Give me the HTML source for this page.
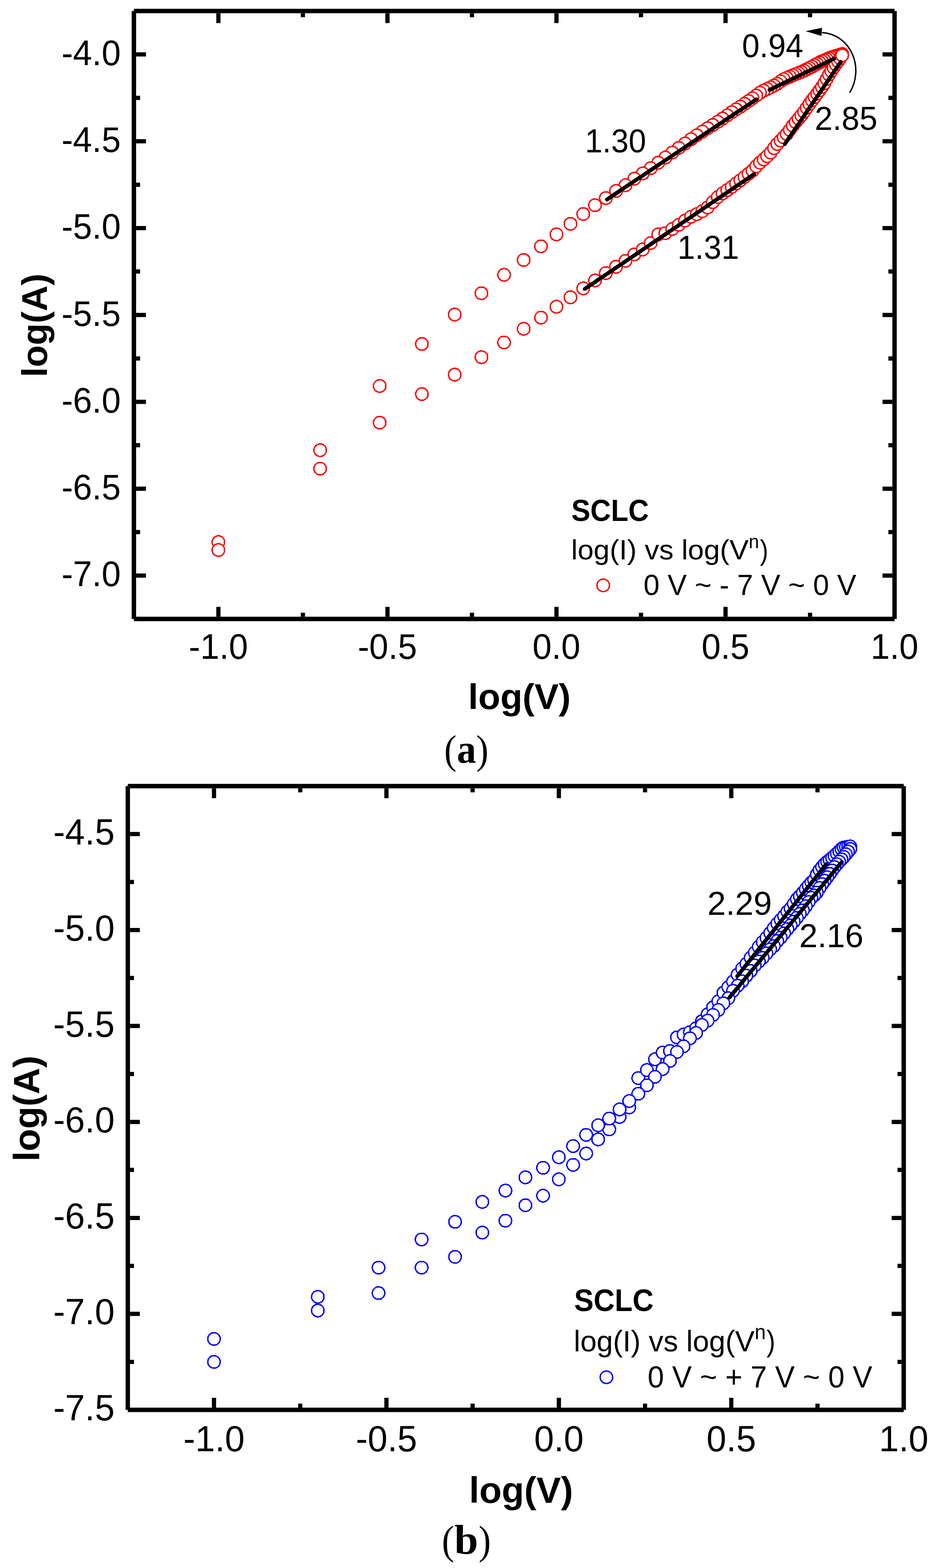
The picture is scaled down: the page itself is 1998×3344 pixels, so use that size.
<!DOCTYPE html>
<html><head><meta charset="utf-8"><title>SCLC log(I) vs log(V)</title>
<style>html,body{margin:0;padding:0;background:#fff;}svg{display:block;}</style>
</head><body>
<svg width="1998" height="3344" viewBox="0 0 1998 3344">
<rect width="1998" height="3344" fill="#fff"/>
<path d="M285.5 23.5H1907.5M285.5 1320.0H1907.5M285.5 23.5V1320.0M1907.5 23.5V1320.0" stroke="#000" stroke-width="9.4" fill="none"/>
<path d="M290.2 116.1h21M1902.8 116.1h-21M290.2 301.3h21M1902.8 301.3h-21M290.2 486.5h21M1902.8 486.5h-21M290.2 671.8h21M1902.8 671.8h-21M290.2 857.0h21M1902.8 857.0h-21M290.2 1042.2h21M1902.8 1042.2h-21M290.2 1227.4h21M1902.8 1227.4h-21M290.2 208.7h8.5M1902.8 208.7h-8.5M290.2 393.9h8.5M1902.8 393.9h-8.5M290.2 579.1h8.5M1902.8 579.1h-8.5M290.2 764.4h8.5M1902.8 764.4h-8.5M290.2 949.6h8.5M1902.8 949.6h-8.5M290.2 1134.8h8.5M1902.8 1134.8h-8.5M465.7 1315.3v-21M465.7 28.2v21M826.2 1315.3v-21M826.2 28.2v21M1186.6 1315.3v-21M1186.6 28.2v21M1547.1 1315.3v-21M1547.1 28.2v21M645.9 1315.3v-8.5M645.9 28.2v8.5M1006.4 1315.3v-8.5M1006.4 28.2v8.5M1366.8 1315.3v-8.5M1366.8 28.2v8.5M1727.3 1315.3v-8.5M1727.3 28.2v8.5" stroke="#000" stroke-width="9" fill="none"/>
<g transform="matrix(1.00366 0 0 1.04155 257.46 139.02)"><text x="0" y="0" font-family="'Liberation Sans', sans-serif" font-size="73" font-weight="normal" text-anchor="end">-4.0</text></g>
<g transform="matrix(1.00366 0 0 1.04155 257.46 324.23)"><text x="0" y="0" font-family="'Liberation Sans', sans-serif" font-size="73" font-weight="normal" text-anchor="end">-4.5</text></g>
<g transform="matrix(1.00366 0 0 1.04155 257.46 509.45)"><text x="0" y="0" font-family="'Liberation Sans', sans-serif" font-size="73" font-weight="normal" text-anchor="end">-5.0</text></g>
<g transform="matrix(1.00366 0 0 1.04155 257.46 694.66)"><text x="0" y="0" font-family="'Liberation Sans', sans-serif" font-size="73" font-weight="normal" text-anchor="end">-5.5</text></g>
<g transform="matrix(1.00366 0 0 1.04155 257.46 879.88)"><text x="0" y="0" font-family="'Liberation Sans', sans-serif" font-size="73" font-weight="normal" text-anchor="end">-6.0</text></g>
<g transform="matrix(1.00366 0 0 1.04155 257.46 1065.09)"><text x="0" y="0" font-family="'Liberation Sans', sans-serif" font-size="73" font-weight="normal" text-anchor="end">-6.5</text></g>
<g transform="matrix(1.00366 0 0 1.04155 257.46 1250.30)"><text x="0" y="0" font-family="'Liberation Sans', sans-serif" font-size="73" font-weight="normal" text-anchor="end">-7.0</text></g>
<g transform="matrix(1.00366 0 0 1.04155 465.64 1404.92)"><text x="0" y="0" font-family="'Liberation Sans', sans-serif" font-size="73" font-weight="normal" text-anchor="middle">-1.0</text></g>
<g transform="matrix(1.00366 0 0 1.04155 826.09 1404.92)"><text x="0" y="0" font-family="'Liberation Sans', sans-serif" font-size="73" font-weight="normal" text-anchor="middle">-0.5</text></g>
<g transform="matrix(1.00366 0 0 1.04155 1186.53 1404.92)"><text x="0" y="0" font-family="'Liberation Sans', sans-serif" font-size="73" font-weight="normal" text-anchor="middle">0.0</text></g>
<g transform="matrix(1.00366 0 0 1.04155 1546.98 1404.92)"><text x="0" y="0" font-family="'Liberation Sans', sans-serif" font-size="73" font-weight="normal" text-anchor="middle">0.5</text></g>
<g transform="matrix(1.00366 0 0 1.04155 1907.42 1404.92)"><text x="0" y="0" font-family="'Liberation Sans', sans-serif" font-size="73" font-weight="normal" text-anchor="middle">1.0</text></g>
<g transform="matrix(1.01576 0 0 1.00282 998.37 1511.75)"><text x="0" y="0" font-family="'Liberation Sans', sans-serif" font-size="76" font-weight="bold" text-anchor="start">log(V)</text></g>
<g transform="matrix(0.98611 0 0 0.99414 99.98 804.22)"><text x="0" y="0" font-family="'Liberation Sans', sans-serif" font-size="77" font-weight="bold" text-anchor="start" transform="rotate(-90)">log(A)</text></g>
<g transform="matrix(0.92874 0 0 1.01429 947.32 1627.74)"><text x="0" y="0" font-family="'Liberation Serif', serif" font-size="85" font-weight="normal" text-anchor="start">(</text></g>
<g transform="matrix(0.96623 0 0 1.00988 974.24 1627.04)"><text x="0" y="0" font-family="'Liberation Serif', serif" font-size="85" font-weight="bold" text-anchor="start">a</text></g>
<g transform="matrix(0.92874 0 0 1.01429 1015.35 1627.74)"><text x="0" y="0" font-family="'Liberation Serif', serif" font-size="85" font-weight="normal" text-anchor="start">)</text></g>
<g fill="#fff" stroke="#ff0000" stroke-width="3.0" shape-rendering="crispEdges"><circle cx="1795.8" cy="115.1" r="13.3"/><circle cx="1791.3" cy="116.5" r="13.3"/><circle cx="1786.8" cy="117.9" r="13.3"/><circle cx="1782.1" cy="119.4" r="13.3"/><circle cx="1777.4" cy="120.9" r="13.3"/><circle cx="1772.6" cy="122.4" r="13.3"/><circle cx="1767.8" cy="124.3" r="13.3"/><circle cx="1762.8" cy="126.4" r="13.3"/><circle cx="1757.8" cy="128.5" r="13.3"/><circle cx="1752.7" cy="130.7" r="13.3"/><circle cx="1747.6" cy="133.3" r="13.3"/><circle cx="1742.3" cy="136.2" r="13.3"/><circle cx="1737.0" cy="139.1" r="13.3"/><circle cx="1731.5" cy="142.1" r="13.3"/><circle cx="1726.0" cy="144.9" r="13.3"/><circle cx="1720.3" cy="147.7" r="13.3"/><circle cx="1714.6" cy="150.6" r="13.3"/><circle cx="1708.7" cy="153.4" r="13.3"/><circle cx="1702.8" cy="155.8" r="13.3"/><circle cx="1696.7" cy="158.2" r="13.3"/><circle cx="1690.5" cy="160.7" r="13.3"/><circle cx="1684.2" cy="163.4" r="13.3"/><circle cx="1677.7" cy="166.1" r="13.3"/><circle cx="1671.1" cy="168.9" r="13.3"/><circle cx="1664.4" cy="173.5" r="13.3"/><circle cx="1657.5" cy="178.6" r="13.3"/><circle cx="1650.5" cy="182.4" r="13.3"/><circle cx="1643.3" cy="186.2" r="13.3"/><circle cx="1635.9" cy="189.8" r="13.3"/><circle cx="1628.4" cy="193.2" r="13.3"/><circle cx="1620.6" cy="197.8" r="13.3"/><circle cx="1612.7" cy="203.8" r="13.3"/><circle cx="1604.6" cy="209.6" r="13.3"/><circle cx="1596.2" cy="215.5" r="13.3"/><circle cx="1587.6" cy="221.4" r="13.3"/><circle cx="1578.8" cy="227.4" r="13.3"/><circle cx="1569.7" cy="233.3" r="13.3"/><circle cx="1560.4" cy="239.2" r="13.3"/><circle cx="1550.8" cy="246.0" r="13.3"/><circle cx="1540.8" cy="252.9" r="13.3"/><circle cx="1530.6" cy="259.8" r="13.3"/><circle cx="1519.9" cy="266.5" r="13.3"/><circle cx="1509.0" cy="273.4" r="13.3"/><circle cx="1497.6" cy="280.6" r="13.3"/><circle cx="1485.8" cy="288.4" r="13.3"/><circle cx="1473.5" cy="297.0" r="13.3"/><circle cx="1460.7" cy="306.0" r="13.3"/><circle cx="1447.4" cy="315.3" r="13.3"/><circle cx="1433.5" cy="325.3" r="13.3"/><circle cx="1418.9" cy="335.9" r="13.3"/><circle cx="1403.6" cy="347.0" r="13.3"/><circle cx="1387.6" cy="358.7" r="13.3"/><circle cx="1370.6" cy="369.8" r="13.3"/><circle cx="1352.7" cy="381.0" r="13.3"/><circle cx="1333.8" cy="395.0" r="13.3"/><circle cx="1313.6" cy="407.2" r="13.3"/><circle cx="1292.0" cy="422.4" r="13.3"/><circle cx="1268.8" cy="437.6" r="13.3"/><circle cx="1243.7" cy="456.3" r="13.3"/><circle cx="1216.5" cy="477.3" r="13.3"/><circle cx="1186.6" cy="499.9" r="13.3"/><circle cx="1153.6" cy="525.3" r="13.3"/><circle cx="1116.7" cy="554.4" r="13.3"/><circle cx="1074.9" cy="586.1" r="13.3"/><circle cx="1026.7" cy="625.3" r="13.3"/><circle cx="969.6" cy="670.9" r="13.3"/><circle cx="899.7" cy="733.6" r="13.3"/><circle cx="809.7" cy="823.2" r="13.3"/><circle cx="682.7" cy="960.0" r="13.3"/><circle cx="465.7" cy="1156.0" r="13.3"/><circle cx="465.7" cy="1173.0" r="13.3"/><circle cx="682.7" cy="999.5" r="13.3"/><circle cx="809.7" cy="901.4" r="13.3"/><circle cx="899.7" cy="840.4" r="13.3"/><circle cx="969.6" cy="799.0" r="13.3"/><circle cx="1026.7" cy="761.8" r="13.3"/><circle cx="1074.9" cy="730.3" r="13.3"/><circle cx="1116.7" cy="701.2" r="13.3"/><circle cx="1153.6" cy="677.4" r="13.3"/><circle cx="1186.6" cy="654.1" r="13.3"/><circle cx="1216.5" cy="634.0" r="13.3"/><circle cx="1243.7" cy="615.0" r="13.3"/><circle cx="1268.8" cy="598.1" r="13.3"/><circle cx="1292.0" cy="582.3" r="13.3"/><circle cx="1313.6" cy="569.0" r="13.3"/><circle cx="1333.8" cy="556.3" r="13.3"/><circle cx="1352.7" cy="542.6" r="13.3"/><circle cx="1370.6" cy="532.0" r="13.3"/><circle cx="1387.6" cy="518.3" r="13.3"/><circle cx="1403.6" cy="500.0" r="13.3"/><circle cx="1418.9" cy="497.3" r="13.3"/><circle cx="1433.5" cy="488.4" r="13.3"/><circle cx="1447.4" cy="479.5" r="13.3"/><circle cx="1460.7" cy="470.6" r="13.3"/><circle cx="1473.5" cy="462.5" r="13.3"/><circle cx="1485.8" cy="456.8" r="13.3"/><circle cx="1497.6" cy="450.4" r="13.3"/><circle cx="1509.0" cy="442.4" r="13.3"/><circle cx="1519.9" cy="431.2" r="13.3"/><circle cx="1530.6" cy="420.3" r="13.3"/><circle cx="1540.8" cy="412.5" r="13.3"/><circle cx="1550.8" cy="405.6" r="13.3"/><circle cx="1560.4" cy="398.6" r="13.3"/><circle cx="1569.7" cy="391.4" r="13.3"/><circle cx="1578.8" cy="384.5" r="13.3"/><circle cx="1587.6" cy="377.5" r="13.3"/><circle cx="1596.2" cy="370.6" r="13.3"/><circle cx="1604.6" cy="363.9" r="13.3"/><circle cx="1612.7" cy="354.8" r="13.3"/><circle cx="1620.6" cy="346.9" r="13.3"/><circle cx="1628.4" cy="340.0" r="13.3"/><circle cx="1635.9" cy="333.2" r="13.3"/><circle cx="1643.3" cy="325.4" r="13.3"/><circle cx="1650.5" cy="316.0" r="13.3"/><circle cx="1657.5" cy="307.0" r="13.3"/><circle cx="1664.4" cy="299.8" r="13.3"/><circle cx="1671.1" cy="292.8" r="13.3"/><circle cx="1677.7" cy="285.9" r="13.3"/><circle cx="1684.2" cy="276.9" r="13.3"/><circle cx="1690.5" cy="268.1" r="13.3"/><circle cx="1696.7" cy="260.3" r="13.3"/><circle cx="1702.8" cy="253.1" r="13.3"/><circle cx="1708.7" cy="246.1" r="13.3"/><circle cx="1714.6" cy="238.3" r="13.3"/><circle cx="1720.3" cy="229.9" r="13.3"/><circle cx="1726.0" cy="221.6" r="13.3"/><circle cx="1731.5" cy="214.2" r="13.3"/><circle cx="1737.0" cy="207.0" r="13.3"/><circle cx="1742.3" cy="199.9" r="13.3"/><circle cx="1747.6" cy="192.7" r="13.3"/><circle cx="1752.7" cy="185.5" r="13.3"/><circle cx="1757.8" cy="177.8" r="13.3"/><circle cx="1762.8" cy="168.3" r="13.3"/><circle cx="1767.8" cy="159.1" r="13.3"/><circle cx="1772.6" cy="151.5" r="13.3"/><circle cx="1777.4" cy="144.0" r="13.3"/><circle cx="1782.1" cy="137.1" r="13.3"/><circle cx="1786.8" cy="130.7" r="13.3"/><circle cx="1791.3" cy="124.4" r="13.3"/><circle cx="1795.8" cy="118.2" r="13.3"/></g>
<path d="M1294.3 425.4L1612.4 212.0M1640.8 191.7L1779.0 124.9M1673.6 307.1L1792.8 131.8M1246.9 616.2L1608.3 371.2" stroke="#000" stroke-width="8.4" stroke-linecap="round" fill="none" shape-rendering="crispEdges"/>
<path d="M1811.6 198C1843.3 147 1816.2 73.7 1752.8 69.6" stroke="#000" stroke-width="3" fill="none"/>
<path d="M1717.8 66.4L1752.8 59.2L1751.8 76.7Z" fill="#000"/>
<g transform="matrix(0.99109 0 0 1.03246 1247.40 324.53)"><text x="0" y="0" font-family="'Liberation Sans', sans-serif" font-size="67.5" font-weight="normal" text-anchor="start">1.30</text></g>
<g transform="matrix(0.99487 0 0 1.04293 1582.16 121.92)"><text x="0" y="0" font-family="'Liberation Sans', sans-serif" font-size="67.5" font-weight="normal" text-anchor="start">0.94</text></g>
<g transform="matrix(1.01680 0 0 1.04712 1737.34 277.11)"><text x="0" y="0" font-family="'Liberation Sans', sans-serif" font-size="67.5" font-weight="normal" text-anchor="start">2.85</text></g>
<g transform="matrix(1.00100 0 0 1.04712 1444.44 552.11)"><text x="0" y="0" font-family="'Liberation Sans', sans-serif" font-size="67.5" font-weight="normal" text-anchor="start">1.31</text></g>
<g transform="matrix(0.99692 0 0 1.07209 1218.26 1111.36)"><text x="0" y="0" font-family="'Liberation Sans', sans-serif" font-size="61" font-weight="bold" text-anchor="start">SCLC</text></g>
<g transform="matrix(1.00538 0 0 0.98246 1218.08 1193.47)"><text x="0" y="0" font-family="'Liberation Sans', sans-serif" font-size="61" font-weight="normal" text-anchor="start">log(I) vs log(V</text></g>
<g transform="matrix(0.94444 0 0 0.98667 1596.40 1169.00)"><text x="0" y="0" font-family="'Liberation Sans', sans-serif" font-size="42" font-weight="normal" text-anchor="start">n</text></g>
<g transform="matrix(0.86875 0 0 0.98678 1620.57 1193.67)"><text x="0" y="0" font-family="'Liberation Sans', sans-serif" font-size="61" font-weight="normal" text-anchor="start">)</text></g>
<g transform="matrix(1.00591 0 0 1.02326 1372.29 1268.69)"><text x="0" y="0" font-family="'Liberation Sans', sans-serif" font-size="61" font-weight="normal" text-anchor="start">0 V ~ - 7 V ~ 0 V</text></g>
<circle cx="1286.3" cy="1248.4" r="13.3" stroke="#ff0000" stroke-width="3.0" fill="none"/>
<path d="M272.5 1676.5H1927.0M272.5 3006.7H1927.0M272.5 1676.5V3006.7M1927.0 1676.5V3006.7" stroke="#000" stroke-width="9.4" fill="none"/>
<path d="M277.2 1778.8h21M1922.3 1778.8h-21M277.2 1983.5h21M1922.3 1983.5h-21M277.2 2188.1h21M1922.3 2188.1h-21M277.2 2392.8h21M1922.3 2392.8h-21M277.2 2597.4h21M1922.3 2597.4h-21M277.2 2802.1h21M1922.3 2802.1h-21M277.2 1881.1h8.5M1922.3 1881.1h-8.5M277.2 2085.8h8.5M1922.3 2085.8h-8.5M277.2 2290.4h8.5M1922.3 2290.4h-8.5M277.2 2495.1h8.5M1922.3 2495.1h-8.5M277.2 2699.7h8.5M1922.3 2699.7h-8.5M277.2 2904.4h8.5M1922.3 2904.4h-8.5M456.3 3002.0v-21M456.3 1681.2v21M824.0 3002.0v-21M824.0 1681.2v21M1191.7 3002.0v-21M1191.7 1681.2v21M1559.3 3002.0v-21M1559.3 1681.2v21M640.2 3002.0v-8.5M640.2 1681.2v8.5M1007.8 3002.0v-8.5M1007.8 1681.2v8.5M1375.5 3002.0v-8.5M1375.5 1681.2v8.5M1743.2 3002.0v-8.5M1743.2 1681.2v8.5" stroke="#000" stroke-width="9" fill="none"/>
<g transform="matrix(1.01949 0 0 1.03697 244.41 1801.22)"><text x="0" y="0" font-family="'Liberation Sans', sans-serif" font-size="74.5" font-weight="normal" text-anchor="end">-4.5</text></g>
<g transform="matrix(1.01949 0 0 1.03697 244.41 2005.87)"><text x="0" y="0" font-family="'Liberation Sans', sans-serif" font-size="74.5" font-weight="normal" text-anchor="end">-5.0</text></g>
<g transform="matrix(1.01949 0 0 1.03697 244.41 2210.51)"><text x="0" y="0" font-family="'Liberation Sans', sans-serif" font-size="74.5" font-weight="normal" text-anchor="end">-5.5</text></g>
<g transform="matrix(1.01949 0 0 1.03697 244.41 2415.16)"><text x="0" y="0" font-family="'Liberation Sans', sans-serif" font-size="74.5" font-weight="normal" text-anchor="end">-6.0</text></g>
<g transform="matrix(1.01949 0 0 1.03697 244.41 2619.81)"><text x="0" y="0" font-family="'Liberation Sans', sans-serif" font-size="74.5" font-weight="normal" text-anchor="end">-6.5</text></g>
<g transform="matrix(1.01949 0 0 1.03697 244.41 2824.45)"><text x="0" y="0" font-family="'Liberation Sans', sans-serif" font-size="74.5" font-weight="normal" text-anchor="end">-7.0</text></g>
<g transform="matrix(1.01949 0 0 1.03697 244.41 3029.10)"><text x="0" y="0" font-family="'Liberation Sans', sans-serif" font-size="74.5" font-weight="normal" text-anchor="end">-7.5</text></g>
<g transform="matrix(1.01949 0 0 1.03697 456.40 3094.92)"><text x="0" y="0" font-family="'Liberation Sans', sans-serif" font-size="74.5" font-weight="normal" text-anchor="middle">-1.0</text></g>
<g transform="matrix(1.01949 0 0 1.03697 824.07 3094.92)"><text x="0" y="0" font-family="'Liberation Sans', sans-serif" font-size="74.5" font-weight="normal" text-anchor="middle">-0.5</text></g>
<g transform="matrix(1.01949 0 0 1.03697 1191.73 3094.92)"><text x="0" y="0" font-family="'Liberation Sans', sans-serif" font-size="74.5" font-weight="normal" text-anchor="middle">0.0</text></g>
<g transform="matrix(1.01949 0 0 1.03697 1559.40 3094.92)"><text x="0" y="0" font-family="'Liberation Sans', sans-serif" font-size="74.5" font-weight="normal" text-anchor="middle">0.5</text></g>
<g transform="matrix(1.01949 0 0 1.03697 1927.07 3094.92)"><text x="0" y="0" font-family="'Liberation Sans', sans-serif" font-size="74.5" font-weight="normal" text-anchor="middle">1.0</text></g>
<g transform="matrix(0.99718 0 0 0.99456 1000.32 3204.79)"><text x="0" y="0" font-family="'Liberation Sans', sans-serif" font-size="78.5" font-weight="bold" text-anchor="start">log(V)</text></g>
<g transform="matrix(0.98983 0 0 0.99655 83.52 2476.98)"><text x="0" y="0" font-family="'Liberation Sans', sans-serif" font-size="78.5" font-weight="bold" text-anchor="start" transform="rotate(-90)">log(A)</text></g>
<g transform="matrix(0.91364 0 0 1.00579 942.37 3313.64)"><text x="0" y="0" font-family="'Liberation Serif', serif" font-size="86" font-weight="normal" text-anchor="start">(</text></g>
<g transform="matrix(1.06358 0 0 1.04298 968.84 3314.12)"><text x="0" y="0" font-family="'Liberation Serif', serif" font-size="86" font-weight="bold" text-anchor="start">b</text></g>
<g transform="matrix(0.91364 0 0 1.00579 1020.39 3313.64)"><text x="0" y="0" font-family="'Liberation Serif', serif" font-size="86" font-weight="normal" text-anchor="start">)</text></g>
<g fill="#fff" stroke="#0000ff" stroke-width="3.0" shape-rendering="crispEdges"><circle cx="456.3" cy="2904.5" r="13.3"/><circle cx="677.7" cy="2794.9" r="13.3"/><circle cx="807.2" cy="2757.7" r="13.3"/><circle cx="899.0" cy="2703.3" r="13.3"/><circle cx="970.3" cy="2680.5" r="13.3"/><circle cx="1028.5" cy="2628.7" r="13.3"/><circle cx="1077.8" cy="2603.3" r="13.3"/><circle cx="1120.4" cy="2570.3" r="13.3"/><circle cx="1158.0" cy="2550.0" r="13.3"/><circle cx="1191.7" cy="2515.1" r="13.3"/><circle cx="1222.1" cy="2484.3" r="13.3"/><circle cx="1249.9" cy="2460.1" r="13.3"/><circle cx="1275.5" cy="2429.9" r="13.3"/><circle cx="1299.1" cy="2408.6" r="13.3"/><circle cx="1321.2" cy="2382.1" r="13.3"/><circle cx="1341.8" cy="2361.8" r="13.3"/><circle cx="1361.1" cy="2299.2" r="13.3"/><circle cx="1379.4" cy="2282.1" r="13.3"/><circle cx="1396.6" cy="2259.1" r="13.3"/><circle cx="1413.0" cy="2244.7" r="13.3"/><circle cx="1428.6" cy="2241.3" r="13.3"/><circle cx="1443.5" cy="2212.3" r="13.3"/><circle cx="1457.7" cy="2206.2" r="13.3"/><circle cx="1471.2" cy="2201.2" r="13.3"/><circle cx="1484.3" cy="2193.0" r="13.3"/><circle cx="1496.8" cy="2177.8" r="13.3"/><circle cx="1508.9" cy="2163.2" r="13.3"/><circle cx="1520.5" cy="2148.3" r="13.3"/><circle cx="1531.7" cy="2135.4" r="13.3"/><circle cx="1542.5" cy="2117.2" r="13.3"/><circle cx="1553.0" cy="2105.1" r="13.3"/><circle cx="1563.1" cy="2093.4" r="13.3"/><circle cx="1572.9" cy="2078.6" r="13.3"/><circle cx="1582.5" cy="2065.5" r="13.3"/><circle cx="1591.7" cy="2055.8" r="13.3"/><circle cx="1600.7" cy="2042.3" r="13.3"/><circle cx="1609.5" cy="2031.7" r="13.3"/><circle cx="1618.0" cy="2019.2" r="13.3"/><circle cx="1626.3" cy="2009.1" r="13.3"/><circle cx="1634.4" cy="2000.1" r="13.3"/><circle cx="1642.3" cy="1989.6" r="13.3"/><circle cx="1650.0" cy="1979.0" r="13.3"/><circle cx="1657.5" cy="1969.6" r="13.3"/><circle cx="1664.8" cy="1961.6" r="13.3"/><circle cx="1672.0" cy="1953.7" r="13.3"/><circle cx="1679.0" cy="1944.4" r="13.3"/><circle cx="1685.9" cy="1937.3" r="13.3"/><circle cx="1692.6" cy="1927.4" r="13.3"/><circle cx="1699.2" cy="1917.6" r="13.3"/><circle cx="1705.6" cy="1911.1" r="13.3"/><circle cx="1712.0" cy="1903.7" r="13.3"/><circle cx="1718.2" cy="1896.4" r="13.3"/><circle cx="1724.3" cy="1888.6" r="13.3"/><circle cx="1730.2" cy="1881.7" r="13.3"/><circle cx="1736.1" cy="1876.7" r="13.3"/><circle cx="1741.8" cy="1864.9" r="13.3"/><circle cx="1747.5" cy="1855.4" r="13.3"/><circle cx="1753.0" cy="1848.9" r="13.3"/><circle cx="1758.5" cy="1842.5" r="13.3"/><circle cx="1763.9" cy="1837.9" r="13.3"/><circle cx="1769.1" cy="1833.8" r="13.3"/><circle cx="1774.3" cy="1829.5" r="13.3"/><circle cx="1779.4" cy="1825.0" r="13.3"/><circle cx="1784.5" cy="1820.3" r="13.3"/><circle cx="1789.4" cy="1815.4" r="13.3"/><circle cx="1794.3" cy="1810.5" r="13.3"/><circle cx="1799.1" cy="1807.3" r="13.3"/><circle cx="1803.8" cy="1806.5" r="13.3"/><circle cx="1808.5" cy="1805.8" r="13.3"/><circle cx="1813.1" cy="1805.1" r="13.3"/><circle cx="1813.1" cy="1810.5" r="13.3"/><circle cx="1808.5" cy="1816.1" r="13.3"/><circle cx="1803.8" cy="1821.7" r="13.3"/><circle cx="1799.1" cy="1827.4" r="13.3"/><circle cx="1794.3" cy="1832.7" r="13.3"/><circle cx="1789.4" cy="1837.6" r="13.3"/><circle cx="1784.5" cy="1843.1" r="13.3"/><circle cx="1779.4" cy="1849.2" r="13.3"/><circle cx="1774.3" cy="1856.3" r="13.3"/><circle cx="1769.1" cy="1863.6" r="13.3"/><circle cx="1763.9" cy="1871.0" r="13.3"/><circle cx="1758.5" cy="1878.2" r="13.3"/><circle cx="1753.0" cy="1885.5" r="13.3"/><circle cx="1747.5" cy="1893.8" r="13.3"/><circle cx="1741.8" cy="1903.5" r="13.3"/><circle cx="1736.1" cy="1909.7" r="13.3"/><circle cx="1730.2" cy="1914.8" r="13.3"/><circle cx="1724.3" cy="1923.8" r="13.3"/><circle cx="1718.2" cy="1932.7" r="13.3"/><circle cx="1712.0" cy="1941.3" r="13.3"/><circle cx="1705.6" cy="1948.9" r="13.3"/><circle cx="1699.2" cy="1957.3" r="13.3"/><circle cx="1692.6" cy="1965.5" r="13.3"/><circle cx="1685.9" cy="1973.3" r="13.3"/><circle cx="1679.0" cy="1981.4" r="13.3"/><circle cx="1672.0" cy="1990.3" r="13.3"/><circle cx="1664.8" cy="1999.5" r="13.3"/><circle cx="1657.5" cy="2006.9" r="13.3"/><circle cx="1650.0" cy="2017.5" r="13.3"/><circle cx="1642.3" cy="2024.3" r="13.3"/><circle cx="1634.4" cy="2033.2" r="13.3"/><circle cx="1626.3" cy="2042.7" r="13.3"/><circle cx="1618.0" cy="2050.5" r="13.3"/><circle cx="1609.5" cy="2059.0" r="13.3"/><circle cx="1600.7" cy="2070.7" r="13.3"/><circle cx="1591.7" cy="2080.7" r="13.3"/><circle cx="1582.5" cy="2092.9" r="13.3"/><circle cx="1572.9" cy="2102.1" r="13.3"/><circle cx="1563.1" cy="2113.1" r="13.3"/><circle cx="1553.0" cy="2128.9" r="13.3"/><circle cx="1542.5" cy="2139.7" r="13.3"/><circle cx="1531.7" cy="2153.9" r="13.3"/><circle cx="1520.5" cy="2164.6" r="13.3"/><circle cx="1508.9" cy="2176.7" r="13.3"/><circle cx="1496.8" cy="2185.9" r="13.3"/><circle cx="1484.3" cy="2203.0" r="13.3"/><circle cx="1471.2" cy="2214.3" r="13.3"/><circle cx="1457.7" cy="2231.4" r="13.3"/><circle cx="1443.5" cy="2243.6" r="13.3"/><circle cx="1428.6" cy="2262.7" r="13.3"/><circle cx="1413.0" cy="2280.0" r="13.3"/><circle cx="1396.6" cy="2296.5" r="13.3"/><circle cx="1379.4" cy="2314.5" r="13.3"/><circle cx="1361.1" cy="2332.6" r="13.3"/><circle cx="1341.8" cy="2348.1" r="13.3"/><circle cx="1321.2" cy="2366.0" r="13.3"/><circle cx="1299.1" cy="2385.5" r="13.3"/><circle cx="1275.5" cy="2399.9" r="13.3"/><circle cx="1249.9" cy="2420.3" r="13.3"/><circle cx="1222.1" cy="2444.2" r="13.3"/><circle cx="1191.7" cy="2468.0" r="13.3"/><circle cx="1158.0" cy="2490.5" r="13.3"/><circle cx="1120.4" cy="2510.9" r="13.3"/><circle cx="1077.8" cy="2539.1" r="13.3"/><circle cx="1028.5" cy="2563.2" r="13.3"/><circle cx="970.3" cy="2605.7" r="13.3"/><circle cx="899.0" cy="2643.3" r="13.3"/><circle cx="807.2" cy="2703.4" r="13.3"/><circle cx="677.7" cy="2765.8" r="13.3"/><circle cx="456.3" cy="2855.5" r="13.3"/></g>
<path d="M1572.0 2082.0L1761.6 1843.3M1555.3 2127.5L1795.0 1838.2" stroke="#000" stroke-width="8.4" stroke-linecap="round" fill="none" shape-rendering="crispEdges"/>
<g transform="matrix(1.02196 0 0 1.00816 1508.62 1950.54)"><text x="0" y="0" font-family="'Liberation Sans', sans-serif" font-size="69" font-weight="normal" text-anchor="start">2.29</text></g>
<g transform="matrix(1.02074 0 0 1.03265 1704.13 2020.23)"><text x="0" y="0" font-family="'Liberation Sans', sans-serif" font-size="69" font-weight="normal" text-anchor="start">2.16</text></g>
<g transform="matrix(0.99760 0 0 1.07273 1224.15 2796.36)"><text x="0" y="0" font-family="'Liberation Sans', sans-serif" font-size="62.5" font-weight="bold" text-anchor="start">SCLC</text></g>
<g transform="matrix(1.00052 0 0 0.99571 1223.55 2882.06)"><text x="0" y="0" font-family="'Liberation Sans', sans-serif" font-size="62.5" font-weight="normal" text-anchor="start">log(I) vs log(V</text></g>
<g transform="matrix(0.94737 0 0 0.98969 1609.16 2855.80)"><text x="0" y="0" font-family="'Liberation Sans', sans-serif" font-size="45" font-weight="normal" text-anchor="start">n</text></g>
<g transform="matrix(0.90303 0 0 0.99399 1634.55 2882.08)"><text x="0" y="0" font-family="'Liberation Sans', sans-serif" font-size="62.5" font-weight="normal" text-anchor="start">)</text></g>
<g transform="matrix(1.00274 0 0 1.04545 1381.09 2959.48)"><text x="0" y="0" font-family="'Liberation Sans', sans-serif" font-size="62.5" font-weight="normal" text-anchor="start">0 V ~ + 7 V ~ 0 V</text></g>
<circle cx="1293.1" cy="2937.2" r="13.3" stroke="#0000ff" stroke-width="3.0" fill="none"/>
</svg>
</body></html>
